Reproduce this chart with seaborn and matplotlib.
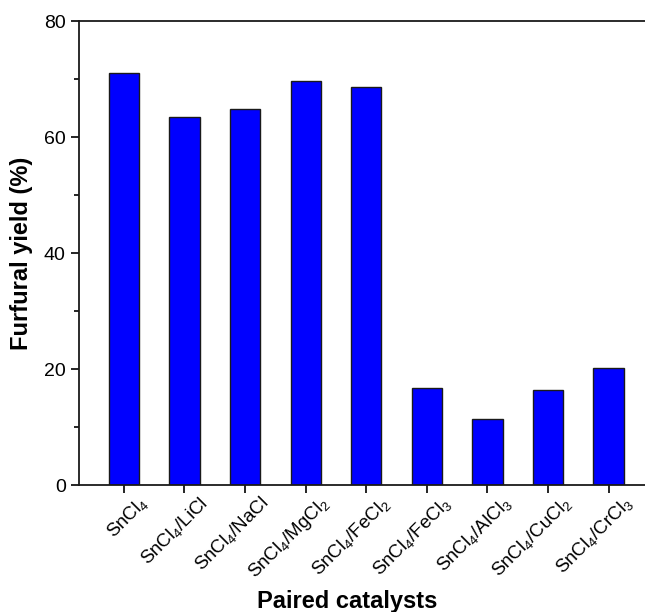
import matplotlib
matplotlib.use("Agg")
import matplotlib.pyplot as plt
import matplotlib.transforms as mtransforms
import pandas as pd
import seaborn as sns
from matplotlib.ticker import MultipleLocator

# Data
catalysts = [r'SnCl$_4$', r'SnCl$_4$/LiCl', r'SnCl$_4$/NaCl', r'SnCl$_4$/MgCl$_2$',
             r'SnCl$_4$/FeCl$_2$', r'SnCl$_4$/FeCl$_3$', r'SnCl$_4$/AlCl$_3$',
             r'SnCl$_4$/CuCl$_2$', r'SnCl$_4$/CrCl$_3$']
yields = [71.1, 63.5, 64.9, 69.7, 68.7, 16.8, 11.4, 16.4, 20.1]

df = pd.DataFrame({'catalyst': catalysts, 'yield': yields})

sns.set_style('ticks')
plt.rcParams['font.family'] = ['Liberation Sans', 'DejaVu Sans']
plt.rcParams['mathtext.fontset'] = 'custom'
plt.rcParams['mathtext.rm'] = 'Liberation Sans'
plt.rcParams['mathtext.it'] = 'Liberation Sans:italic'
plt.rcParams['mathtext.bf'] = 'Liberation Sans:bold'
plt.rcParams['text.color'] = 'black'
plt.rcParams['axes.labelcolor'] = 'black'
plt.rcParams['xtick.color'] = 'black'
plt.rcParams['ytick.color'] = 'black'

fig = plt.figure(figsize=(6.45, 6.12), dpi=100)
ax = fig.add_axes([0.1225, 0.2075, 0.8775, 0.758])

sns.barplot(data=df, x='catalyst', y='yield', color='#0000ff', saturation=1,
            width=0.5, edgecolor='#1a1a1a', linewidth=1.0, ax=ax)

ax.set_xlim(-0.74, 8.6)
ax.set_ylim(0, 80)
ax.yaxis.set_major_locator(MultipleLocator(20))
ax.yaxis.set_minor_locator(MultipleLocator(10))

for side in ['left', 'bottom', 'top']:
    ax.spines[side].set_linewidth(1.3)
    ax.spines[side].set_color('#1a1a1a')
ax.spines['right'].set_visible(False)

ax.tick_params(axis='both', which='major', direction='out', length=6, width=1.2)
ax.tick_params(axis='y', which='minor', direction='out', length=3.5, width=1.2)
ax.tick_params(axis='y', labelsize=14)
ax.tick_params(axis='x', labelsize=13.5)

# rotated labels sit a bit to the right of their ticks, as in the original
shift = mtransforms.ScaledTranslation(0.14, 0.05, fig.dpi_scale_trans)
for lab in ax.get_xticklabels():
    lab.set_rotation(45)
    lab.set_ha('right')
    lab.set_rotation_mode('anchor')
    lab.set_transform(lab.get_transform() + shift)

ax.set_xlabel('Paired catalysts', fontsize=17, fontweight='bold', va='top')
ax.xaxis.set_label_coords(0.474, -0.226)
ax.set_ylabel('Furfural yield (%)', fontsize=17, fontweight='bold', labelpad=8)

fig.savefig('out.png', dpi=100)
